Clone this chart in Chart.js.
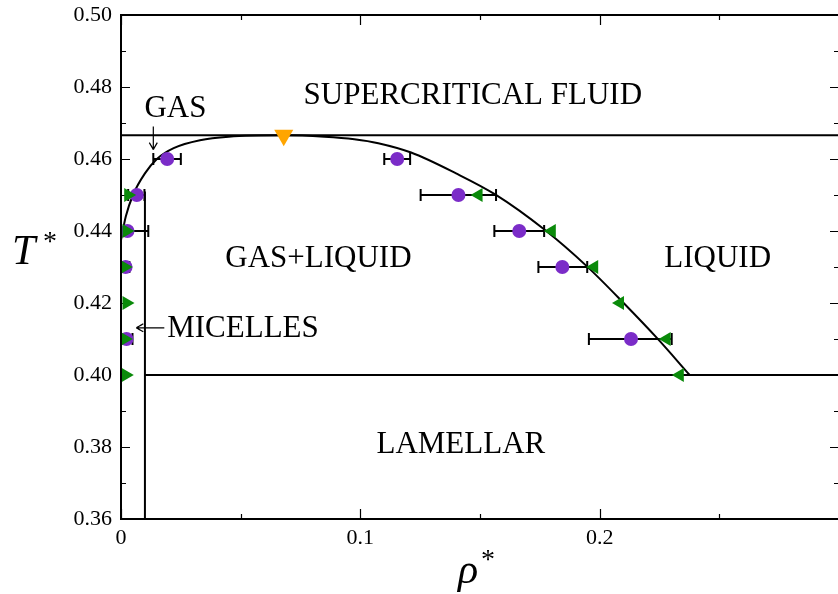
<!DOCTYPE html>
<html><head><meta charset="utf-8">
<script src="https://cdn.jsdelivr.net/npm/chart.js@4/dist/chart.umd.min.js"></script>
<style>
html,body{margin:0;padding:0;background:#fff;overflow:hidden;width:838px;height:594px}
#wrap{width:850px;height:594px;position:relative}
</style>
</head><body><div id="wrap"><canvas id="c" width="850" height="594"></canvas></div>
<script>
// ---- data ----
const coexRho = [0.0, 0.002, 0.005, 0.010, 0.015, 0.022, 0.033, 0.045, 0.068, 0.085, 0.0975, 0.1075, 0.1212, 0.140, 0.1565, 0.1769, 0.1948, 0.2100, 0.2239, 0.2376];
const coexT   = [0.4375, 0.4440, 0.4500, 0.4560, 0.4600, 0.4630, 0.4652, 0.4662, 0.4666, 0.4662, 0.4655, 0.4644, 0.4618, 0.4560, 0.4501, 0.4404, 0.4301, 0.4200, 0.4103, 0.4000];

const critRho = [0.068];
const critT   = [0.4666];

const topLineRho = [0.0, 0.3];
const topLineT   = [0.4666, 0.4666];
const lamLineRho = [0.01, 0.3];
const lamLineT   = [0.40, 0.40];
const micLineRho = [0.01, 0.01];
const micLineT   = [0.36, 0.451];

const purpleRho = [0.0193, 0.0066, 0.0027, 0.0019, 0.0023, 0.1154, 0.1410, 0.1664, 0.1844, 0.2131];
const purpleT   = [0.46, 0.45, 0.44, 0.43, 0.41, 0.46, 0.45, 0.44, 0.43, 0.41];
const purpleLo  = [0.0135, 0.0030, 0.0000, 0.0005, 0.0001, 0.1100, 0.1252, 0.1560, 0.1744, 0.1955];
const purpleHi  = [0.0250, 0.0098, 0.0114, 0.0035, 0.0048, 0.1208, 0.1567, 0.1768, 0.1948, 0.2301];

const greenLowRho = [0.0030, 0.0023, 0.0016, 0.0023, 0.0016, 0.0020];
const greenLowT   = [0.45, 0.44, 0.43, 0.42, 0.41, 0.40];
const greenHighRho = [0.1494, 0.1800, 0.1977, 0.2085, 0.2280, 0.2335];
const greenHighT   = [0.45, 0.44, 0.43, 0.42, 0.41, 0.40];

const xTickValues = [0, 0.1, 0.2];
const xTickLabels = ['0', '0.1', '0.2'];
const xMinorTicks = [0.05, 0.15, 0.25];
const yTickValues = [0.36, 0.38, 0.40, 0.42, 0.44, 0.46, 0.48, 0.50];
const yTickLabels = ['0.36', '0.38', '0.40', '0.42', '0.44', '0.46', '0.48', '0.50'];
const yMinorTicks = [0.37, 0.39, 0.41, 0.43, 0.45, 0.47, 0.49];

const regionLabels = ['SUPERCRITICAL FLUID', 'GAS+LIQUID', 'LIQUID', 'LAMELLAR', 'MICELLES', 'GAS'];
const regionRho    = [0.147, 0.0825, 0.2493, 0.142, 0.0193, 0.0098];
const regionT      = [0.4754, 0.4301, 0.4301, 0.3784, 0.4106, 0.4716];
const regionAlign  = ['center', 'center', 'center', 'center', 'left', 'left'];

const pts = (xs, ys) => xs.map((v, i) => ({x: v, y: ys[i]}));
const SERIF = '"Liberation Serif", "DejaVu Serif", serif';
const PURPLE = '#7b2cc8';
const GREEN = '#0a8a0a';

// ---- plugins ----
const framePlugin = {
  id: 'frame',
  beforeDatasetsDraw(chart) {
    const {ctx, chartArea: a, scales: {x, y}} = chart;
    ctx.save();
    ctx.strokeStyle = '#000';
    ctx.lineWidth = 1.2;
    ctx.beginPath();
    const yt = (v, len) => {
      const py = Math.round(y.getPixelForValue(v)) + 0.5;
      ctx.moveTo(a.left, py); ctx.lineTo(a.left + len, py);
      ctx.moveTo(a.right, py); ctx.lineTo(a.right - len, py);
    };
    const xt = (v, len) => {
      const px = Math.round(x.getPixelForValue(v)) + 0.5;
      ctx.moveTo(px, a.bottom); ctx.lineTo(px, a.bottom - len);
      ctx.moveTo(px, a.top); ctx.lineTo(px, a.top + len);
    };
    yTickValues.forEach(v => yt(v, 9));
    yMinorTicks.forEach(v => yt(v, 5));
    xTickValues.forEach(v => xt(v, 10));
    xMinorTicks.forEach(v => xt(v, 5));
    ctx.stroke();
    // error bars
    ctx.lineWidth = 2;
    ctx.beginPath();
    purpleT.forEach((t, i) => {
      const py = y.getPixelForValue(t);
      const x0 = x.getPixelForValue(purpleLo[i]);
      const x1 = x.getPixelForValue(purpleHi[i]);
      ctx.moveTo(x0, py); ctx.lineTo(x1, py);
      ctx.moveTo(x0, py - 6); ctx.lineTo(x0, py + 6);
      ctx.moveTo(x1, py - 6); ctx.lineTo(x1, py + 6);
    });
    ctx.stroke();
    ctx.restore();
  },
  afterDraw(chart) {
    const {ctx, chartArea: a, scales: {x, y}} = chart;
    ctx.save();
    ctx.strokeStyle = '#000';
    ctx.lineWidth = 2;
    ctx.strokeRect(a.left, a.top, a.right - a.left, a.bottom - a.top);
    // region labels
    ctx.fillStyle = '#000';
    ctx.font = '31px ' + SERIF;
    ctx.textBaseline = 'alphabetic';
    regionLabels.forEach((s, i) => {
      ctx.textAlign = regionAlign[i];
      ctx.fillText(s, x.getPixelForValue(regionRho[i]), y.getPixelForValue(regionT[i]));
    });
    // arrows
    ctx.lineWidth = 1.2;
    ctx.beginPath();
    const gx = x.getPixelForValue(0.0135), gy0 = y.getPixelForValue(0.4690), gy1 = y.getPixelForValue(0.4626);
    ctx.moveTo(gx, gy0); ctx.lineTo(gx, gy1);
    ctx.moveTo(gx - 4, gy1 - 7); ctx.quadraticCurveTo(gx - 1, gy1 - 2, gx, gy1);
    ctx.moveTo(gx + 4, gy1 - 7); ctx.quadraticCurveTo(gx + 1, gy1 - 2, gx, gy1);
    const my = y.getPixelForValue(0.4131), mx0 = x.getPixelForValue(0.0181), mx1 = x.getPixelForValue(0.0064);
    ctx.moveTo(mx0, my); ctx.lineTo(mx1, my);
    ctx.moveTo(mx1 + 7, my - 4); ctx.quadraticCurveTo(mx1 + 2, my - 1, mx1, my);
    ctx.moveTo(mx1 + 7, my + 4); ctx.quadraticCurveTo(mx1 + 2, my + 1, mx1, my);
    ctx.stroke();
    // axis titles
    ctx.textAlign = 'left';
    ctx.font = 'italic 42px ' + SERIF;
    ctx.fillText('T', 12, 264);
    ctx.font = '28px ' + SERIF;
    ctx.fillText('*', 43, 250);
    ctx.font = 'italic 42px ' + SERIF;
    ctx.fillText('\u03C1', 458, 583);
    ctx.font = '28px ' + SERIF;
    ctx.fillText('*', 481, 568);
    ctx.restore();
  }
};

new Chart(document.getElementById('c'), {
  type: 'scatter',
  data: {
    datasets: [
      {label: 'critical', data: pts(critRho, critT), pointStyle: 'triangle', rotation: 180, pointRadius: 11,
       backgroundColor: '#ffa500', borderColor: '#ffa500', borderWidth: 0, order: 1},
      {label: 'green low', data: pts(greenLowRho, greenLowT), pointStyle: 'triangle', rotation: 90, pointRadius: 8,
       backgroundColor: GREEN, borderColor: GREEN, borderWidth: 0, order: 2},
      {label: 'green high', data: pts(greenHighRho, greenHighT), pointStyle: 'triangle', rotation: -90, pointRadius: 8,
       backgroundColor: GREEN, borderColor: GREEN, borderWidth: 0, order: 3},
      {label: 'purple', data: pts(purpleRho, purpleT), pointStyle: 'circle', pointRadius: 7,
       backgroundColor: PURPLE, borderColor: PURPLE, borderWidth: 0, order: 4},
      {label: 'coexistence', data: pts(coexRho, coexT), showLine: true, pointRadius: 0, borderColor: '#000',
       borderWidth: 2, cubicInterpolationMode: 'monotone', order: 5},
      {label: 'top', data: pts(topLineRho, topLineT), showLine: true, pointRadius: 0, borderColor: '#000', borderWidth: 2.2, order: 6},
      {label: 'lamellar', data: pts(lamLineRho, lamLineT), showLine: true, pointRadius: 0, borderColor: '#000', borderWidth: 2.2, order: 6},
      {label: 'micelles', data: pts(micLineRho, micLineT), showLine: true, pointRadius: 0, borderColor: '#000', borderWidth: 2, order: 6}
    ]
  },
  options: {
    responsive: false,
    animation: false,
    devicePixelRatio: 1,
    layout: {padding: {left: 0, top: 15, right: 9, bottom: 0}},
    plugins: {legend: {display: false}, tooltip: {enabled: false}},
    scales: {
      x: {
        type: 'linear', min: 0, max: 0.3,
        grid: {display: false, drawTicks: false},
        border: {display: true, color: '#000', width: 2},
        afterBuildTicks: s => { s.ticks = xTickValues.map(v => ({value: v})); },
        afterFit: s => { s.height = 75; s.paddingLeft = 0; s.paddingRight = 0; },
        ticks: {padding: 6, color: '#000', font: {family: SERIF, size: 22}, maxRotation: 0,
                callback: (v, i) => xTickLabels[i]}
      },
      y: {
        type: 'linear', min: 0.36, max: 0.50,
        grid: {display: false, drawTicks: false},
        border: {display: true, color: '#000', width: 2},
        afterBuildTicks: s => { s.ticks = yTickValues.map(v => ({value: v})); },
        afterFit: s => { s.width = 121; s.paddingTop = 0; s.paddingBottom = 0; },
        ticks: {padding: 9, color: '#000', font: {family: SERIF, size: 22},
                callback: (v, i) => yTickLabels[i]}
      }
    }
  },
  plugins: [framePlugin]
});
</script>
</body></html>
